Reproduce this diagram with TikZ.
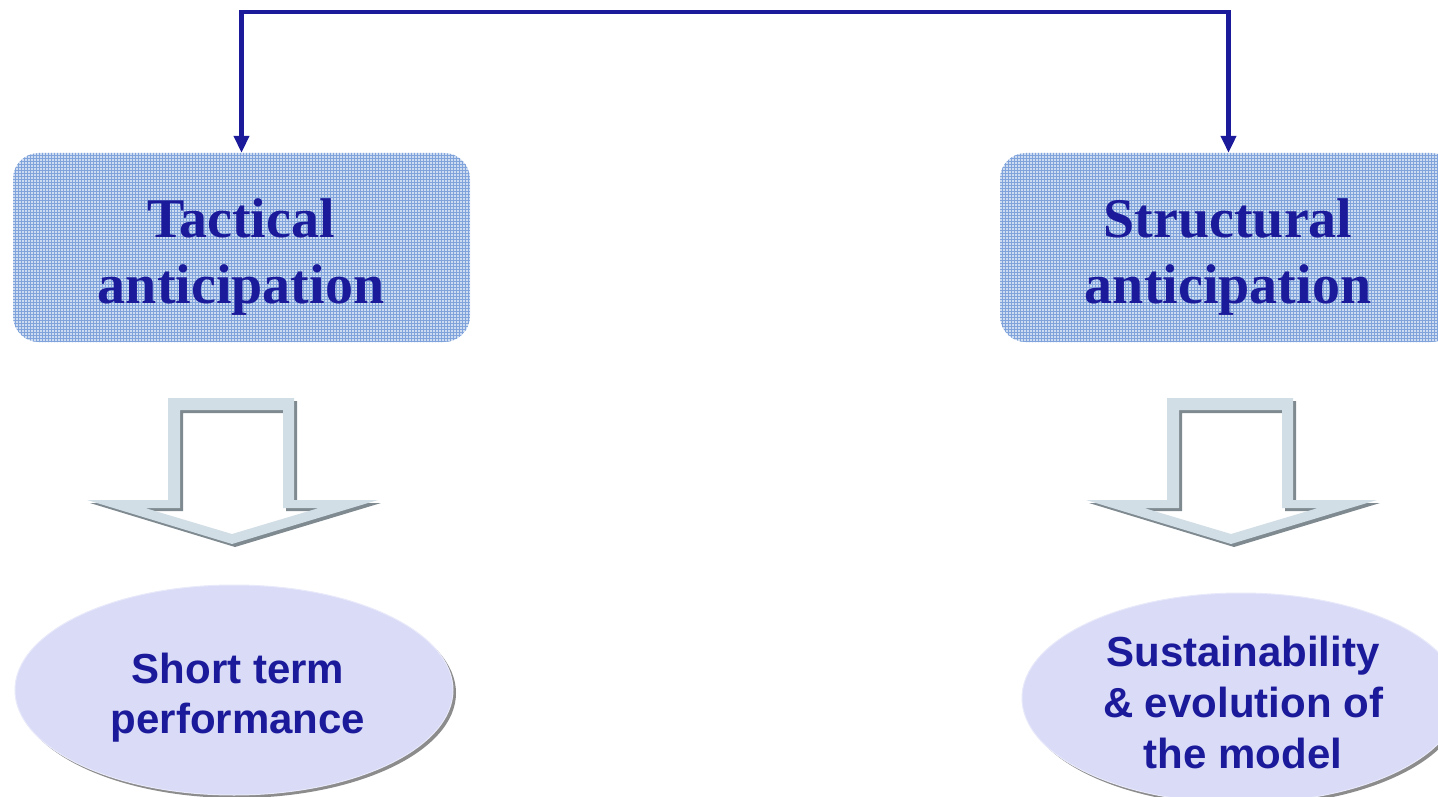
\documentclass[tikz,border=0pt]{standalone}
\usepackage{fontspec}
\setmainfont{Liberation Serif}
\setsansfont{Liberation Sans}
\usetikzlibrary{arrows.meta,shapes.geometric,shadows,patterns}
\definecolor{ink}{HTML}{1A1A9A}
\definecolor{tilebase}{HTML}{CEDCF2}
\definecolor{tilegrid}{HTML}{7FA3DA}
\definecolor{ringc}{HTML}{D2DEE6}
\definecolor{ringshadow}{HTML}{7E8990}
\definecolor{ovalfill}{HTML}{D9DBF7}

\tikzset{
  pics/hollowarrow/.style={code={
    % drop shadow of the outlined block arrow
    \fill[ringshadow, even odd rule, shift={(3,3)}]
      (168,398) -- (294,398) -- (294,500) -- (378,500) -- (232,544) -- (87,500) -- (168,500) -- cycle
      (180,410) -- (283,410) -- (283,508) -- (319,508) -- (232,534) -- (145,508) -- (180,508) -- cycle;
    % the outline itself
    \fill[ringc, even odd rule]
      (168,398) -- (294,398) -- (294,500) -- (378,500) -- (232,544) -- (87,500) -- (168,500) -- cycle
      (180,410) -- (283,410) -- (283,508) -- (319,508) -- (232,534) -- (145,508) -- (180,508) -- cycle;
  }}
}

\begin{document}
\begin{tikzpicture}[x=1pt,y=-1pt,
  tile/.style={rectangle, rounded corners=26pt, minimum width=457pt,
    minimum height=189pt, inner sep=0pt, preaction={fill=tilebase},
    pattern=grid, pattern color=tilegrid},
  ttl/.style={anchor=base, inner sep=0pt, text=ink,
    font=\rmfamily\bfseries\fontsize{56}{66}\selectfont},
  oval/.style={ellipse, minimum width=438pt, minimum height=210pt,
    inner sep=0pt, fill=ovalfill, draw=ovalfill!60!white, line width=1pt,
    drop shadow={shadow xshift=3pt, shadow yshift=-3pt, fill=black!50, opacity=0.9}},
  otxt/.style={anchor=base, inner sep=0pt, text=ink,
    font=\sffamily\bfseries\fontsize{42}{50}\selectfont},
  conn/.style={draw=ink, line width=4.5pt,
    {Triangle[length=17pt,width=15pt]}-{Triangle[length=17pt,width=15pt]}}
]
\useasboundingbox (0,0) rectangle (1438,797);
\fill[white] (0,0) rectangle (1438,797);

% anticipation boxes
\node[tile] (tact) at (241.5,247.5) {};
\node[tile] (struct) at (1228.5,247.5) {};
\node[ttl] (tact1) at (241,237) {Tactical};
\node[ttl] (tact2) at (241,303) {anticipation};
\node[ttl] (struct1) at (1228,237) {Structural};
\node[ttl] (struct2) at (1228,303) {anticipation};

% bracket connector joining both boxes
\coordinate (topmid) at (735,12);
\draw[conn] (tact.north) |- (topmid) -| (struct.north);

% hollow block arrows
\pic at (0,0) {hollowarrow};
\pic at (999,0) {hollowarrow};

% outcome ovals
\node[oval] (stp) at (234,690) {};
\node[oval] (sust) at (1241,698) {};
\node[otxt] (stp1) at (238,683) {Short term};
\node[otxt] (stp2) at (238,733) {performance};
\node[otxt] (sust1) at (1243,666) {Sustainability};
\node[otxt] (sust2) at (1243,717) {\& evolution of};
\node[otxt] (sust3) at (1243,768) {the model};
\end{tikzpicture}
\end{document}
